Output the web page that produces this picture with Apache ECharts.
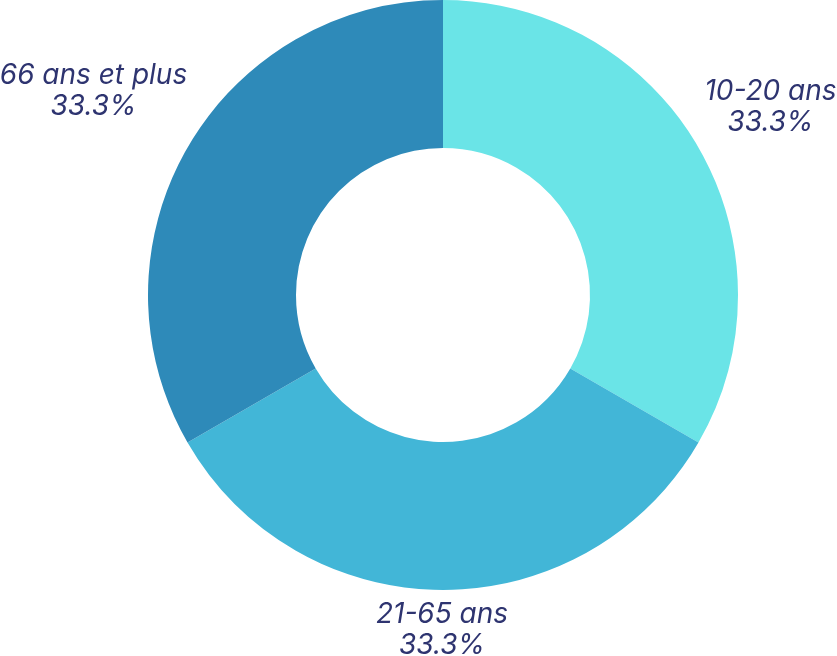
<!DOCTYPE html>
<html>
<head>
<meta charset="utf-8">
<script src="https://cdn.jsdelivr.net/npm/echarts@6/dist/echarts.min.js"></script>
<style>
html,body{margin:0;padding:0;background:#fff;}
#chart{width:837px;height:656px;}
</style>
</head>
<body>
<div id="chart"></div>
<script>
var categories = ['10-20 ans', '21-65 ans', '66 ans et plus'];
var values = [1, 1, 1];
var colors = ['#6ae4e7', '#42b6d7', '#2e8ab9'];

var labelShift = [
  { dx: 72, dy: -40 },
  { dx: -1, dy: 40 },
  { dx: -94, dy: -56 }
];

var total = values.reduce(function (a, b) { return a + b; }, 0);

var chart = echarts.init(document.getElementById('chart'), null, { renderer: 'canvas' });
chart.setOption({
  animation: false,
  color: colors,
  series: [{
    type: 'pie',
    center: [443, 295],
    radius: [147, 295],
    startAngle: 90,
    clockwise: true,
    avoidLabelOverlap: false,
    itemStyle: { borderWidth: 0 },
    emphasis: { disabled: true },
    label: {
      show: true,
      position: 'outside',
      overflow: 'none',
      distanceToLabelLine: 0,
      formatter: function (p) {
        return p.name + '\n' + (p.value / total * 100).toFixed(1) + '%';
      },
      fontFamily: 'Inter',
      fontStyle: 'italic',
      fontSize: 28,
      lineHeight: 31,
      color: '#2e3470',
      align: 'center'
    },
    labelLine: { show: false, length: 0, length2: 0 },
    labelLayout: function (p) {
      var s = labelShift[p.dataIndex];
      return { align: 'center', verticalAlign: 'middle', dx: s.dx, dy: s.dy };
    },
    data: categories.map(function (c, i) { return { name: c, value: values[i] }; })
  }]
});
</script>
</body>
</html>
